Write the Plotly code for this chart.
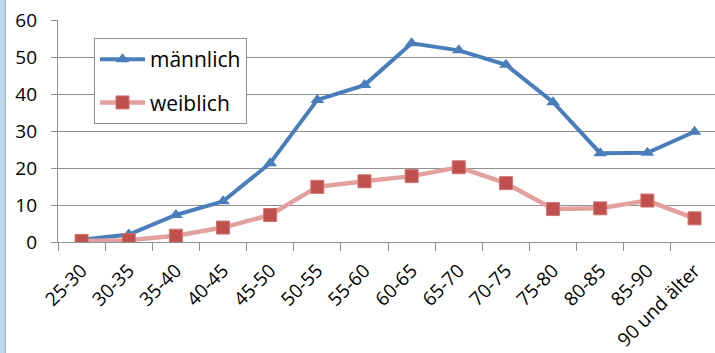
import plotly.graph_objects as go

# Altersgruppen und Werte je Geschlecht
altersgruppen = ["25-30", "30-35", "35-40", "40-45", "45-50", "50-55", "55-60",
                 "60-65", "65-70", "70-75", "75-80", "80-85", "85-90", "90 und älter"]
maennlich = [0.6, 2.0, 7.3, 11.0, 21.3, 38.4, 42.4, 53.7, 51.8, 47.9, 37.8, 24.0, 24.1, 29.8]
weiblich = [0.3, 0.5, 1.7, 3.9, 7.3, 14.9, 16.4, 17.8, 20.2, 15.9, 8.9, 9.1, 11.2, 6.4]
y_ticks = [0, 10, 20, 30, 40, 50, 60]

FONT = "Open Sans"
GRID = "#8f8f8f"

W, H = 715, 353
ML, MR, MT, MB = 58, 0, 20, 111
pw = W - ML - MR
ph = H - MT - MB

fig = go.Figure()

fig.add_trace(go.Scatter(
    x=altersgruppen, y=maennlich, name="männlich", mode="lines+markers",
    line=dict(color="#4a7ebb", width=4),
    marker=dict(symbol="triangle-up", size=12, color="#4a7ebb"),
    legendgroup="m",
))
fig.add_trace(go.Scatter(
    x=altersgruppen, y=weiblich, name="weiblich", mode="lines+markers",
    line=dict(color="#e2a09f", width=4.5),
    marker=dict(symbol="square", size=13, color="#c0504d",
                line=dict(color="#d07472", width=1)),
    legendgroup="w",
))

# schmaler blauer Rand links
fig.add_shape(type="rect", xref="paper", yref="paper",
              x0=-ML / pw, x1=-(ML - 5) / pw, y0=-MB / ph, y1=1 + MT / ph,
              fillcolor="#bcd6ee", line=dict(width=0), layer="below")
fig.add_shape(type="line", xref="paper", yref="paper",
              x0=-(ML - 5.5) / pw, x1=-(ML - 5.5) / pw, y0=-MB / ph, y1=1 + MT / ph,
              line=dict(color="#9aa9b8", width=1))

fig.update_layout(
    width=W, height=H,
    margin=dict(l=ML, r=MR, t=MT, b=MB),
    paper_bgcolor="white", plot_bgcolor="white",
    font=dict(family=FONT, color="#000000"),
    showlegend=True,
    legend=dict(
        x=(94 - ML) / pw, y=(MT + ph - 38) / ph, xanchor="left", yanchor="top",
        bgcolor="white", bordercolor=GRID, borderwidth=1,
        font=dict(family=FONT, size=21),
        tracegroupgap=13, itemwidth=45,
    ),
    xaxis=dict(
        type="category", categoryorder="array", categoryarray=altersgruppen,
        range=[-0.5, -0.5 + pw / 47.15],
        showgrid=False, showline=True, linecolor=GRID, linewidth=1.3,
        ticks="outside", ticklen=8, tickcolor=GRID, tickwidth=1.3,
        tickson="boundaries", tickangle=-45,
        tickfont=dict(family=FONT, size=19),
        ticklabelstandoff=9,
        fixedrange=True,
    ),
    yaxis=dict(
        range=[0, 60], tickvals=y_ticks,
        showgrid=True, gridcolor=GRID, gridwidth=1.3,
        showline=True, linecolor=GRID, linewidth=1.3,
        ticks="outside", ticklen=6, tickcolor=GRID, tickwidth=1.3,
        tickfont=dict(family=FONT, size=19),
        ticklabelstandoff=10,
        zeroline=False, fixedrange=True,
    ),
)

fig.write_html("out.html")
